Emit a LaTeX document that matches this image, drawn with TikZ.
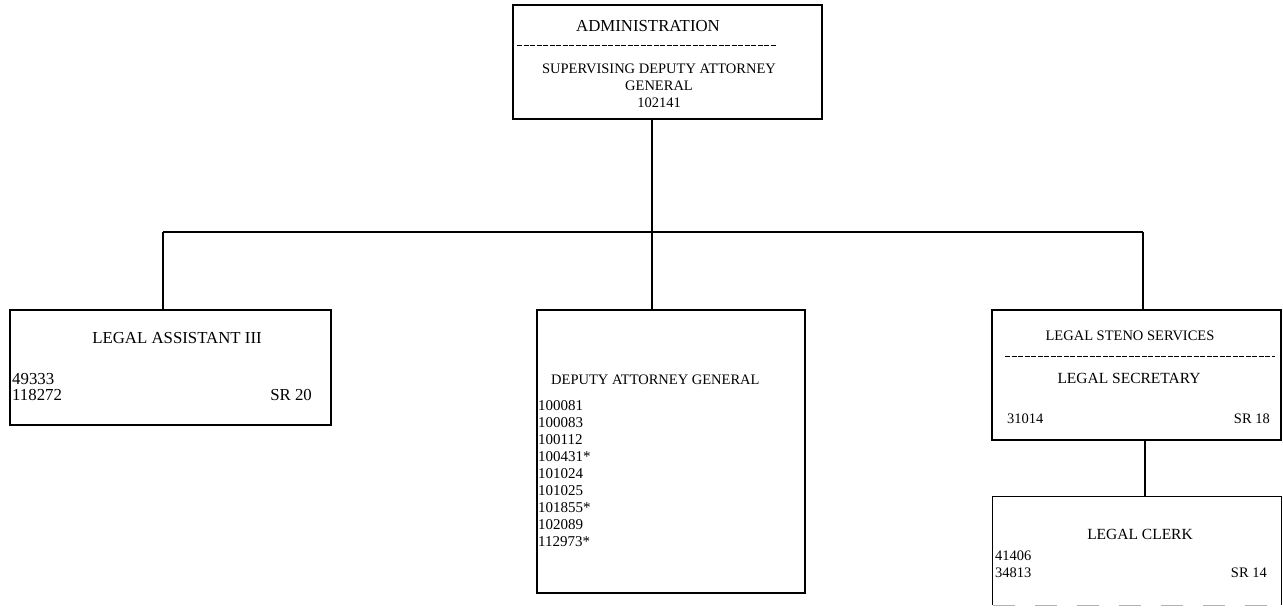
\documentclass[tikz,border=0pt]{standalone}
\usepackage{fontspec}
\setmainfont{Liberation Serif}
\begin{document}
\begin{tikzpicture}[x=1pt,y=-1pt,
  box/.style={draw,line width=1.3pt,inner sep=0pt},
  txt/.style={inner sep=0pt,font=\fontsize{14.5}{17}\selectfont},
  bigtxt/.style={inner sep=0pt,font=\fontsize{16.8}{17}\selectfont},
  divider/.style={line width=0.9pt,dash pattern=on 5pt off 1.5pt},
  conn/.style={line width=1.2pt}]
\useasboundingbox (0,0) rectangle (1283,608);
% boxes
\node[box,minimum width=309pt,minimum height=114pt] (admin) at (667.5,62) {};
\node[box,minimum width=321pt,minimum height=115pt] (legal) at (170.5,367.5) {};
\node[box,minimum width=268pt,minimum height=283pt] (dag) at (671,451.5) {};
\node[box,minimum width=289pt,minimum height=130pt] (steno) at (1136.5,375) {};
\node[inner sep=0pt,minimum width=288pt,minimum height=108pt] (clerk) at (1137,551) {};
\draw[line width=1.3pt] (clerk.south west) -- (clerk.north west) -- (clerk.north east) -- (clerk.south east);
\draw[line width=1.3pt,gray!60,dash pattern=on 22pt off 20pt] (clerk.south west) -- (clerk.south east);
% admin texts
\node[bigtxt] (t1) at (648,26) {ADMINISTRATION};
\draw[divider] (517,45) -- (777,45);
\node[txt,align=center] (t2) at (659,86) {SUPERVISING DEPUTY ATTORNEY\\GENERAL\\102141};
% legal assistant
\node[bigtxt] (t3) at (177,338) {LEGAL ASSISTANT III};
\node[bigtxt,anchor=west] (t4) at (12,379) {49333};
\node[bigtxt,anchor=west] (t5) at (12,395) {118272};
\node[bigtxt,anchor=east] (t6) at (312,395) {SR 20};
% deputy AG
\node[txt,anchor=west] (t7) at (551,380) {DEPUTY ATTORNEY GENERAL};
\node[txt,anchor=north west,align=left,font=\fontsize{15}{17}\selectfont] (t8) at (538,400) {100081\\100083\\100112\\100431*\\101024\\101025\\101855*\\102089\\112973*};
% steno
\node[txt] (t9) at (1130,336) {LEGAL STENO SERVICES};
\draw[divider] (1005,356) -- (1275,356);
\node[txt,font=\fontsize{15.5}{17}\selectfont] (t10) at (1129,378) {LEGAL SECRETARY};
\node[txt,anchor=west] (t11) at (1007,419) {31014};
\node[txt,anchor=east] (t12) at (1270,419) {SR 18};
% clerk
\node[txt,font=\fontsize{15.5}{17}\selectfont] (t13) at (1140,534) {LEGAL CLERK};
\node[txt,anchor=west] (t14) at (995,556) {41406};
\node[txt,anchor=west] (t15) at (995,573) {34813};
\node[txt,anchor=east] (t16) at (1267,573) {SR 14};
% connectors
\coordinate (jM) at (652,232);
\coordinate (jL) at (163,232);
\coordinate (jR) at (1143,232);
\coordinate (jS) at (1145,440);
\draw[conn] (admin.south -| jM) -- (jM);
\draw[conn] (jL) -- (jR);
\draw[conn] (jL) -- (jL |- legal.north);
\draw[conn] (jM) -- (jM |- dag.north);
\draw[conn] (jR) -- (jR |- steno.north);
\draw[conn] (steno.south -| jS) -- (jS |- clerk.north);
\end{tikzpicture}
\end{document}
